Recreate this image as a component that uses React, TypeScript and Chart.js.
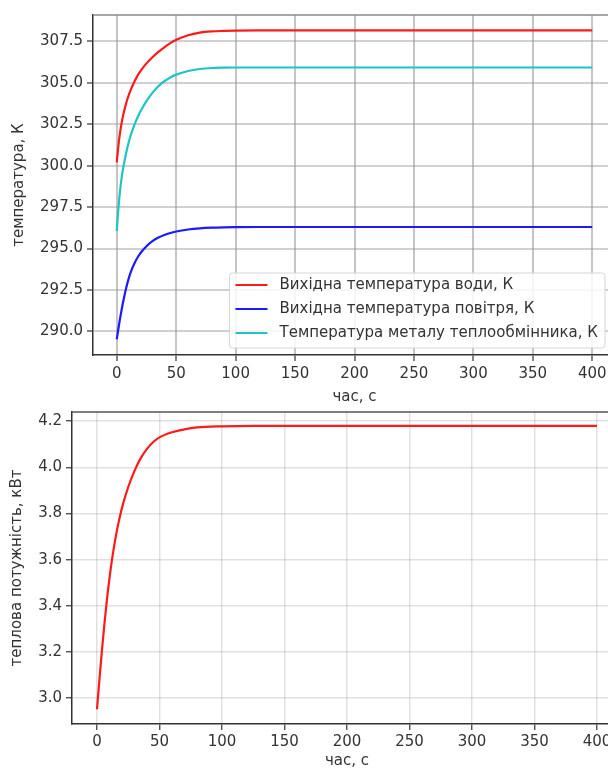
import React, { useEffect, useRef } from "react";
import { Chart, registerables } from "chart.js";

Chart.register(...registerables);

// ---------- data ----------
const timeTop = [0, 1, 2, 3, 4, 5, 6, 8, 10, 12, 15, 18, 21, 25, 30, 35, 40, 45, 50, 60, 70, 80, 90, 100, 120, 150, 200, 250, 300, 350, 400];
const waterOut = [300.2, 300.95, 301.6, 302.12, 302.55, 302.92, 303.25, 303.8, 304.25, 304.62, 305.1, 305.5, 305.82, 306.18, 306.55, 306.87, 307.15, 307.4, 307.6, 307.88, 308.04, 308.11, 308.14, 308.16, 308.17, 308.17, 308.17, 308.17, 308.17, 308.17, 308.17];
const airOut = [289.52, 289.99, 290.44, 290.87, 291.27, 291.65, 292.0, 292.64, 293.18, 293.62, 294.13, 294.52, 294.82, 295.14, 295.44, 295.66, 295.82, 295.94, 296.03, 296.15, 296.22, 296.26, 296.28, 296.29, 296.3, 296.3, 296.3, 296.3, 296.3, 296.3, 296.3];
const metalTemp = [296.06, 297.1, 297.95, 298.65, 299.22, 299.7, 300.1, 300.8, 301.4, 301.9, 302.5, 303.0, 303.42, 303.9, 304.4, 304.8, 305.1, 305.33, 305.5, 305.72, 305.84, 305.9, 305.92, 305.93, 305.93, 305.93, 305.93, 305.93, 305.93, 305.93, 305.93];

const timeBottom = [0, 2, 4, 6, 8, 10, 12, 15, 18, 21, 25, 30, 35, 40, 45, 50, 60, 70, 80, 100, 125, 150, 200, 250, 300, 350, 400];
const heatPower = [2.952, 3.085, 3.21, 3.325, 3.43, 3.52, 3.6, 3.7, 3.78, 3.845, 3.915, 3.985, 4.04, 4.08, 4.11, 4.13, 4.152, 4.165, 4.173, 4.178, 4.18, 4.18, 4.18, 4.18, 4.18, 4.18, 4.18];

const xTickValues = [0, 50, 100, 150, 200, 250, 300, 350, 400];
const yTicksTop = [290.0, 292.5, 295.0, 297.5, 300.0, 302.5, 305.0, 307.5];
const yTicksBottom = [3.0, 3.2, 3.4, 3.6, 3.8, 4.0, 4.2];

const xRange = [-20, 420];
const yRangeTop = [288.57, 309.1];
const yRangeBottom = [2.888, 4.24];

const labelsTop = [
  "Вихідна температура води, К",
  "Вихідна температура повітря, К",
  "Температура металу теплообмінника, К",
];
const xTitle = "час, с";
const yTitleTop = "температура, К";
const yTitleBottom = "теплова потужність, кВт";

// ---------- styles ----------
const FONT = "'DejaVu Sans', sans-serif";
const FS = 15;
const TEXT = "#333333";

const pts = (xs: number[], ys: number[]) => xs.map((x, i) => ({ x, y: ys[i] }));

const topBorderPlugin = (color: string) => ({
  id: "topBorder",
  afterDatasetsDraw(chart: any) {
    const { ctx, chartArea } = chart;
    ctx.save();
    ctx.strokeStyle = color;
    ctx.lineWidth = 1.5;
    ctx.beginPath();
    ctx.moveTo(chartArea.left, chartArea.top);
    ctx.lineTo(chartArea.right, chartArea.top);
    ctx.stroke();
    ctx.restore();
  },
});

const innerLegendPlugin = {
  id: "innerLegend",
  afterDraw(chart: any) {
    const { ctx, chartArea } = chart;
    const ds = chart.data.datasets;
    ctx.save();
    ctx.font = `${FS}px ${FONT}`;
    const textW = Math.max(...ds.map((d: any) => ctx.measureText(d.label).width));
    const rowH = 24;
    const boxW = 6 + 32 + 12 + textW + 7;
    const boxH = ds.length * rowH + 3;
    const right = chartArea.right - 11;
    const bottom = chartArea.bottom - 7;
    const left = right - boxW;
    const top = bottom - boxH;
    ctx.beginPath();
    ctx.roundRect(left, top, boxW, boxH, 3);
    ctx.fillStyle = "rgba(255,255,255,0.85)";
    ctx.fill();
    ctx.strokeStyle = "#d6d6d6";
    ctx.lineWidth = 1;
    ctx.stroke();
    ds.forEach((d: any, i: number) => {
      const y = top + 12 + i * rowH;
      ctx.strokeStyle = d.borderColor;
      ctx.lineWidth = 2.2;
      ctx.beginPath();
      ctx.moveTo(left + 6, y);
      ctx.lineTo(left + 38, y);
      ctx.stroke();
      ctx.fillStyle = TEXT;
      ctx.textBaseline = "middle";
      ctx.textAlign = "left";
      ctx.fillText(d.label, left + 50, y);
    });
    ctx.restore();
  },
};

function xScale(gridColor: string, gridWidth: number, height: number, labelPad: number) {
  return {
    type: "linear",
    min: xRange[0],
    max: xRange[1],
    afterBuildTicks: (s: any) => {
      s.ticks = xTickValues.map((v) => ({ value: v }));
    },
    afterFit: (s: any) => {
      s.height = height;
      s.paddingLeft = 0;
      s.paddingRight = 0;
    },
    grid: {
      color: gridColor,
      lineWidth: gridWidth,
      drawTicks: true,
      tickLength: 6,
      tickColor: "#333",
      tickWidth: 1.2,
    },
    border: { display: true, color: "#333", width: 1.5 },
    ticks: {
      color: TEXT,
      font: { family: FONT, size: FS },
      padding: labelPad,
      maxRotation: 0,
      autoSkip: false,
      callback: (v: any) => String(v),
    },
    title: {
      display: true,
      text: xTitle,
      color: TEXT,
      font: { family: FONT, size: FS },
      padding: { top: 0, bottom: 0 },
    },
  };
}

function yScale(range: number[], ticks: number[], gridColor: string, gridWidth: number, width: number, title: string, titlePad: number) {
  return {
    type: "linear",
    min: range[0],
    max: range[1],
    afterBuildTicks: (s: any) => {
      s.ticks = ticks.map((v) => ({ value: v }));
    },
    afterFit: (s: any) => {
      s.width = width;
      s.paddingTop = 0;
      s.paddingBottom = 0;
    },
    grid: {
      color: gridColor,
      lineWidth: gridWidth,
      drawTicks: true,
      tickLength: 6,
      tickColor: "#333",
      tickWidth: 1.2,
    },
    border: { display: true, color: "#333", width: 1.5 },
    ticks: {
      color: TEXT,
      font: { family: FONT, size: FS },
      padding: 4,
      autoSkip: false,
      callback: (v: any) => Number(v).toFixed(1),
    },
    title: {
      display: true,
      text: title,
      color: TEXT,
      font: { family: FONT, size: FS },
      padding: { top: titlePad, bottom: 0 },
    },
  };
}

function TopChart() {
  const ref = useRef<HTMLCanvasElement>(null);
  useEffect(() => {
    const colors = ["#ff1a1a", "#1a1aff", "#1fc4c4"];
    const series = [waterOut, airOut, metalTemp];
    const chart = new Chart(ref.current as HTMLCanvasElement, {
      type: "line",
      data: {
        datasets: series.map((s, i) => ({
          label: labelsTop[i],
          data: pts(timeTop, s),
          borderColor: colors[i],
          backgroundColor: colors[i],
          borderWidth: 2.2,
          pointRadius: 0,
          fill: false,
          cubicInterpolationMode: "monotone",
        })),
      },
      options: {
        animation: false,
        responsive: false,
        devicePixelRatio: 1,
        layout: { padding: { top: 15, right: 24, left: 0, bottom: 0 } },
        plugins: { legend: { display: false }, tooltip: { enabled: false } },
        scales: {
          x: xScale("rgba(150,150,150,0.55)", 2, 51, 4.5),
          y: yScale(yRangeTop, yTicksTop, "rgba(150,150,150,0.45)", 2, 93, yTitleTop, 10.5),
        },
      } as any,
      plugins: [topBorderPlugin("#8a8a8a"), innerLegendPlugin],
    });
    return () => chart.destroy();
  }, []);
  return (
    <canvas
      ref={ref}
      width={640}
      height={406}
      style={{ position: "absolute", left: 0, top: 0, width: 640, height: 406 }}
    />
  );
}

function BottomChart() {
  const ref = useRef<HTMLCanvasElement>(null);
  useEffect(() => {
    const chart = new Chart(ref.current as HTMLCanvasElement, {
      type: "line",
      data: {
        datasets: [
          {
            label: yTitleBottom,
            data: pts(timeBottom, heatPower),
            borderColor: "#ff1a1a",
            backgroundColor: "#ff1a1a",
            borderWidth: 2.2,
            pointRadius: 0,
            fill: false,
            cubicInterpolationMode: "monotone",
          },
        ],
      },
      options: {
        animation: false,
        responsive: false,
        devicePixelRatio: 1,
        layout: { padding: { top: 6, right: 18, left: 0, bottom: 0 } },
        plugins: { legend: { display: false }, tooltip: { enabled: false } },
        scales: {
          x: xScale("rgba(170,170,170,0.35)", 1.5, 46, 2.7),
          y: yScale(yRangeBottom, yTicksBottom, "rgba(170,170,170,0.35)", 1.5, 72, yTitleBottom, 8),
        },
      } as any,
      plugins: [topBorderPlugin("#555")],
    });
    return () => chart.destroy();
  }, []);
  return (
    <canvas
      ref={ref}
      width={640}
      height={364}
      style={{ position: "absolute", left: 0, top: 406, width: 640, height: 364 }}
    />
  );
}

export default function App() {
  useEffect(() => {
    document.body.style.margin = "0";
    document.body.style.overflow = "hidden";
  }, []);
  return (
    <div style={{ position: "relative", width: 608, height: 770, overflow: "hidden", background: "#fff" }}>
      <TopChart />
      <BottomChart />
    </div>
  );
}
